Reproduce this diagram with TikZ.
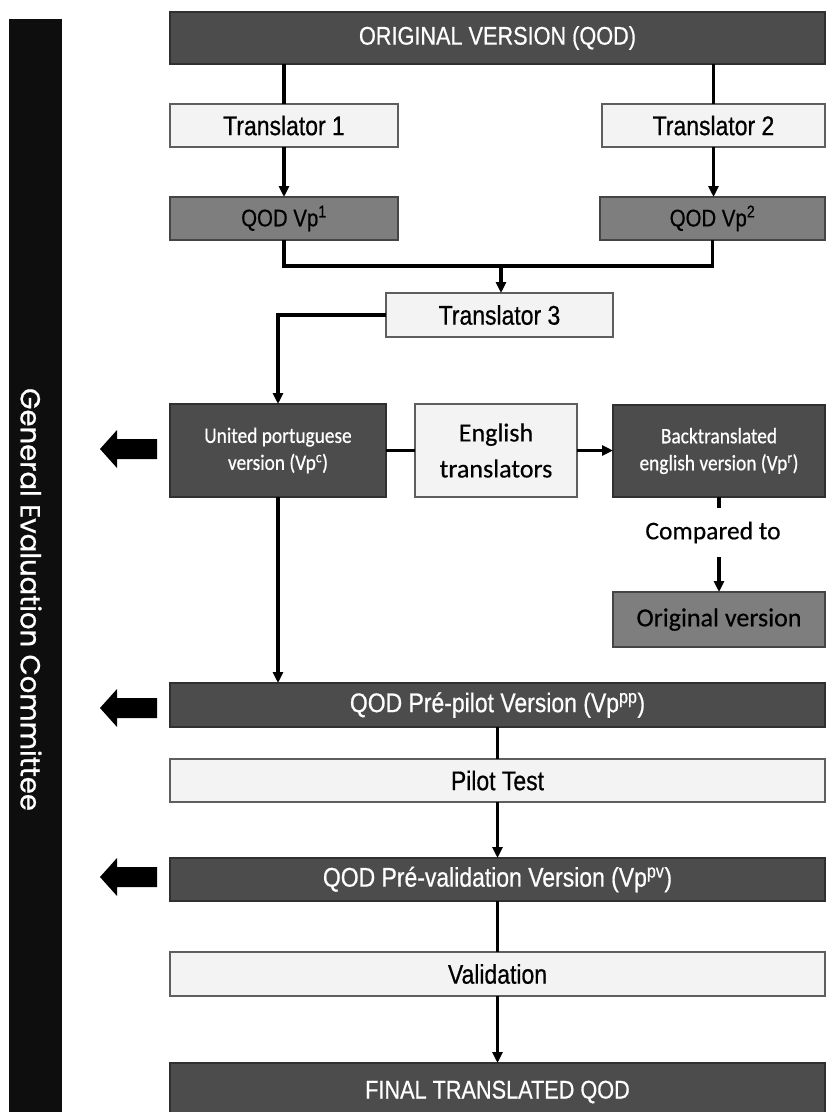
\documentclass[tikz,border=0pt]{standalone}
\usepackage{fontspec}
\setmainfont{Liberation Sans}
\newfontfamily\nf[FakeStretch=0.85,FakeBold=0.6]{Liberation Sans}
\newfontfamily\gf[FakeBold=0.4]{Carlito}
\newfontfamily\gfn[FakeStretch=0.88,FakeBold=0.6]{Carlito}
\newfontfamily\pf[FakeBold=0.8]{Poppins}
\usetikzlibrary{arrows.meta}
\definecolor{dk}{HTML}{4C4C4C}
\definecolor{dkb}{HTML}{303030}
\definecolor{md}{HTML}{7E7E7E}
\definecolor{mdb}{HTML}{454545}
\definecolor{lt}{HTML}{F3F3F3}
\definecolor{ltb}{HTML}{5E5E5E}
\definecolor{barc}{HTML}{0E0E0E}
\tikzset{
  bx/.style={rectangle, inner sep=0pt, outer sep=0pt, line width=1.3pt, align=center},
  dark/.style={bx, fill=dk, draw=dkb, text=white},
  mid/.style={bx, fill=md, draw=mdb, text=black},
  light/.style={bx, fill=lt, draw=ltb, text=black},
  ln/.style={line width=3.1pt, draw=black},
  arr/.style={line width=3.1pt, draw=black, -{Triangle[length=11pt,width=10pt]}},
  fat/.style={fill=black, draw=none},
  nt/.style={font=\nf\fontsize{27}{30}\selectfont},
  ntc/.style={font=\nf\fontsize{25.5}{30}\selectfont},
  gt/.style={font=\gf\fontsize{26}{36}\selectfont},
  gs/.style={font=\gfn\fontsize{22}{27}\selectfont},
}
\begin{document}
\begin{tikzpicture}[x=1pt,y=-1pt]
\fill[white] (0,0) rectangle (827,1112);
\useasboundingbox (0,0) rectangle (827,1112);

% side bar
\node[bx, fill=barc, draw=none, minimum width=53, minimum height=1110] (bar) at (35.5,574) {};
\node[text=white, font=\pf\fontsize{27.5}{30}\selectfont, rotate=-90, inner sep=0pt] (gec) at (31,599.5) {General Evaluation Committee};

% boxes
\node[dark, ntc, minimum width=655, minimum height=52] (orig) at (497.5,38) {ORIGINAL VERSION (QOD)};
\node[light, nt, minimum width=228, minimum height=43] (t1) at (284,125.5) {Translator 1};
\node[light, nt, minimum width=223, minimum height=43] (t2) at (713.5,125.5) {Translator 2};
\node[mid, font=\nf\fontsize{24}{28}\selectfont, minimum width=228, minimum height=43] (vp1) at (284,218.5) {QOD Vp\textsuperscript{1}};
\node[mid, font=\nf\fontsize{24}{28}\selectfont, minimum width=225, minimum height=43] (vp2) at (712.5,218.5) {QOD Vp\textsuperscript{2}};
\node[light, nt, minimum width=227, minimum height=44] (t3) at (499.5,315) {Translator 3};
\node[dark, gs, minimum width=216, minimum height=93] (united) at (278,450.5) {United portuguese\\version (Vp\textsuperscript{c})};
\node[light, gt, minimum width=162, minimum height=93] (eng) at (496,450.5) {English\\translators};
\node[dark, gs, minimum width=212, minimum height=92] (back) at (719,451) {Backtranslated\\english version (Vp\textsuperscript{r})};
\node[gt, font=\gf\fontsize{25.5}{30}\selectfont, inner sep=0pt, minimum height=49] (cmp) at (713,532.5) {Compared to};
\node[mid, gt, minimum width=212, minimum height=55] (origv) at (719,619.5) {Original version};
\node[dark, nt, minimum width=655, minimum height=44] (prep) at (497.5,705) {QOD Pré-pilot Version (Vp\textsuperscript{pp})};
\node[light, nt, minimum width=655, minimum height=43] (pilot) at (497.5,780.5) {Pilot Test};
\node[dark, nt, minimum width=655, minimum height=43] (prev) at (497.5,879.5) {QOD Pré-validation Version (Vp\textsuperscript{pv})};
\node[light, nt, minimum width=655, minimum height=44] (valid) at (497.5,974) {Validation};
\node[dark, ntc, minimum width=655, minimum height=58] (final) at (497.5,1092) {FINAL TRANSLATED QOD};

% connectors
\coordinate (mC) at (501,266);
\draw[ln] (orig.south -| t1.north) -- (t1.north);
\draw[ln] (orig.south -| t2.north) -- (t2.north);
\draw[arr] (t1.south) -- (vp1.north);
\draw[arr] (t2.south) -- (t2.south |- vp2.north);
\draw[ln, line width=3.6pt] (vp1.south) |- (mC) -| (vp2.south);
\draw[arr] (mC) -- (mC |- t3.north);
\draw[arr, line width=3.4pt] (t3.west) -| (united.north);
\draw[ln, line width=3.6pt] (united.east) -- (eng.west);
\draw[arr] (eng.east) -- (eng.east -| back.west);
\draw[ln] (back.south) -- (back.south |- cmp.north);
\draw[arr] (back.south |- cmp.south) -- (origv.north);
\draw[arr] (united.south) -- (united.south |- prep.north);
\draw[ln] (prep.south) -- (pilot.north);
\draw[arr] (pilot.south) -- (prev.north);
\draw[ln] (prev.south) -- (valid.north);
\draw[arr] (valid.south) -- (final.north);

% fat arrows toward committee bar
\foreach \c in {449,708,877}{
  \fill[fat] (100,\c) -- (117,\c-19) -- (117,\c-10) -- (157,\c-10) -- (157,\c+10) -- (117,\c+10) -- (117,\c+19) -- cycle;
}
\end{tikzpicture}
\end{document}
